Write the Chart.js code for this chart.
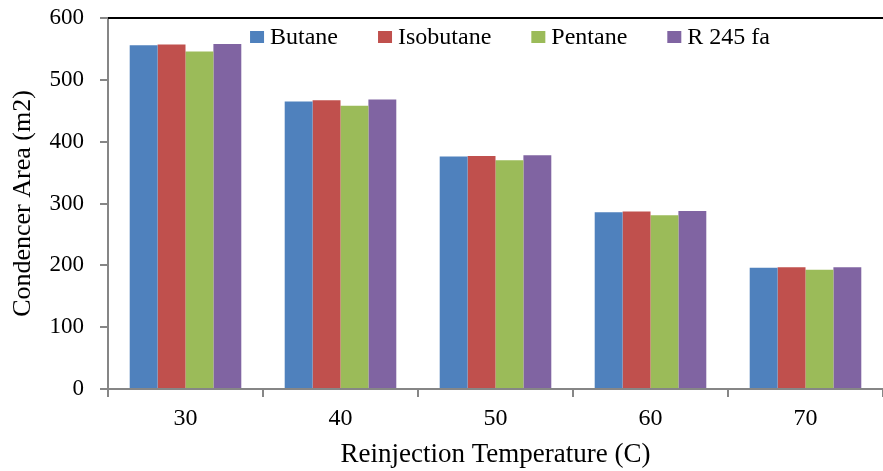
<!DOCTYPE html>
<html>
<head>
<meta charset="utf-8">
<script src="https://cdn.jsdelivr.net/npm/chart.js@4"></script>
<style>
  html, body { margin: 0; padding: 0; background: #fff; }
  #wrap { width: 883px; height: 471px; }
</style>
</head>
<body>
<div id="wrap"><canvas id="myChart" width="883" height="471"></canvas></div>
<script>
// reinjection temperature (C)
var temperaturas = ['30', '40', '50', '60', '70'];
// condenser area (m2) per fluid
var butano = [556, 465, 376, 286, 196];
var isobutano = [557, 467, 377, 287, 197];
var pentano = [546, 458, 370, 281, 193];
var r245fa = [558, 468, 378, 288, 197];
var nomi = ['Butane', 'Isobutane', 'Pentane', 'R 245 fa'];
var colori = ['#4F81BD', '#C0504D', '#9BBB59', '#8064A2'];
var yTicks = [0, 100, 200, 300, 400, 500, 600];

var FONT = "'Liberation Serif', 'Times New Roman', serif";

// legend drawn inside the plot, top, one row
var legendaInterna = {
  id: 'legendaInterna',
  afterDraw: function(chart) {
    var ctx = chart.ctx;
    var area = chart.chartArea;
    ctx.save();
    // frame line on top of the plot
    ctx.strokeStyle = '#000';
    ctx.lineWidth = 2;
    ctx.beginPath();
    ctx.moveTo(area.left, area.top);
    ctx.lineTo(chart.width, area.top);
    ctx.stroke();

    ctx.font = '24px ' + FONT;
    ctx.textBaseline = 'middle';
    var boxW = 14, boxH = 12, gapTxt = 6, gapItem = 40;
    var tot = 0;
    chart.data.datasets.forEach(function(ds, i) {
      tot += boxW + gapTxt + ctx.measureText(ds.label).width;
      if (i < chart.data.datasets.length - 1) tot += gapItem;
    });
    var x = 510 - tot / 2;
    var y = 37;
    chart.data.datasets.forEach(function(ds) {
      ctx.fillStyle = ds.backgroundColor;
      ctx.fillRect(x, y - boxH / 2, boxW, boxH);
      x += boxW + gapTxt;
      ctx.fillStyle = '#000';
      ctx.fillText(ds.label, x, y + 1);
      x += ctx.measureText(ds.label).width + gapItem;
    });
    ctx.restore();
  }
};

var serie = [butano, isobutano, pentano, r245fa];
var datasets = serie.map(function(s, i) {
  return {
    label: nomi[i],
    data: s,
    backgroundColor: colori[i],
    borderWidth: 0,
    categoryPercentage: 0.72,
    barPercentage: 1
  };
});

var ctx = document.getElementById('myChart').getContext('2d');
var chart = new Chart(ctx, {
  type: 'bar',
  data: { labels: temperaturas, datasets: datasets },
  options: {
    responsive: false,
    animation: false,
    layout: { padding: { top: 18, right: 0, left: 0, bottom: 0 } },
    plugins: {
      legend: { display: false },
      tooltip: { enabled: false }
    },
    scales: {
      x: {
        afterFit: function(scale) {
          scale.height = 82;
          scale.paddingLeft = 0;
          scale.paddingRight = 0;
        },
        border: { color: '#868686', width: 2 },
        grid: { offset: true, drawOnChartArea: false, color: '#868686', lineWidth: 2, tickLength: 8 },
        ticks: { color: '#000', padding: 7, font: { family: FONT, size: 24 } },
        title: {
          display: true,
          text: 'Reinjection Temperature (C)',
          color: '#000',
          font: { family: FONT, size: 27 },
          padding: { top: 2, bottom: 0 }
        }
      },
      y: {
        min: 0,
        max: 600,
        afterFit: function(scale) {
          scale.width = 108;
          scale.paddingTop = 0;
          scale.paddingBottom = 0;
        },
        afterBuildTicks: function(scale) {
          scale.ticks = yTicks.map(function(v) { return { value: v }; });
        },
        border: { color: '#868686', width: 2 },
        grid: { drawOnChartArea: false, color: '#868686', lineWidth: 2, tickLength: 8 },
        ticks: { color: '#000', padding: 16, font: { family: FONT, size: 23 } },
        title: {
          display: true,
          text: 'Condencer Area (m2)',
          color: '#000',
          font: { family: FONT, size: 26 },
          padding: { top: 8, bottom: 0 }
        }
      }
    }
  },
  plugins: [legendaInterna]
});
</script>
</body>
</html>
